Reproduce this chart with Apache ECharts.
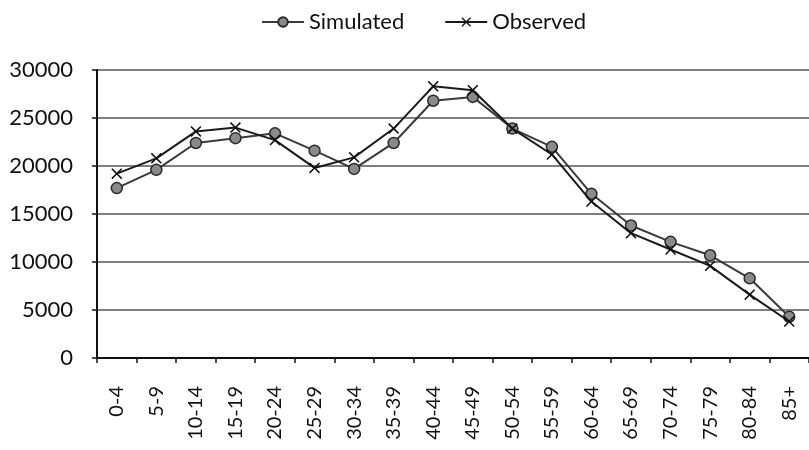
<!DOCTYPE html>
<html>
<head>
<meta charset="utf-8">
<script src="https://cdn.jsdelivr.net/npm/echarts@6/dist/echarts.min.js"></script>
<style>
  html, body { margin: 0; padding: 0; background: #fff; }
  #chart { width: 809px; height: 450px; }
</style>
</head>
<body>
<div id="chart"></div>
<script>
// Age groups along the x axis
const categories = ['0-4', '5-9', '10-14', '15-19', '20-24', '25-29', '30-34', '35-39', '40-44',
  '45-49', '50-54', '55-59', '60-64', '65-69', '70-74', '75-79', '80-84', '85+'];

// Population per age group
const simulated = [17700, 19600, 22400, 22900, 23400, 21600, 19700, 22400, 26800,
  27200, 23900, 22000, 17100, 13800, 12100, 10700, 8300, 4300];
const observed = [19200, 20800, 23600, 24000, 22700, 19800, 20900, 23900, 28300,
  27900, 23900, 21200, 16300, 13000, 11300, 9600, 6600, 3800];

// Value axis ticks
const yTicks = [0, 5000, 10000, 15000, 20000, 25000, 30000];

const FONT = 'Lato, "Open Sans", sans-serif';
const crossPath = 'path://M0,1 L1,0 L5,4 L9,0 L10,1 L6,5 L10,9 L9,10 L5,6 L1,10 L0,9 L4,5 Z';

const chart = echarts.init(document.getElementById('chart'), null, { renderer: 'canvas' });
chart.setOption({
  animation: false,
  backgroundColor: '#fff',
  legend: {
    top: 6,
    left: 256,
    itemGap: 40,
    itemWidth: 42,
    itemHeight: 12,
    textStyle: { fontFamily: FONT, fontSize: 22, color: '#111' },
    data: ['Simulated', 'Observed']
  },
  grid: { left: 97, right: 0, top: 70, height: 288 },
  xAxis: {
    type: 'category',
    data: categories,
    boundaryGap: true,
    axisLine: { lineStyle: { color: '#111', width: 2 } },
    axisTick: { show: true, length: 5, lineStyle: { color: '#111', width: 1.5 } },
    axisLabel: {
      rotate: 90, margin: 28, interval: 0,
      fontFamily: FONT, fontSize: 20, color: '#111'
    },
    splitLine: { show: false }
  },
  yAxis: {
    type: 'value',
    min: yTicks[0],
    max: yTicks[yTicks.length - 1],
    interval: 5000,
    axisLine: { show: true, lineStyle: { color: '#111', width: 2 } },
    axisTick: { show: true, length: 5, lineStyle: { color: '#111', width: 1.5 } },
    axisLabel: {
      margin: 24, fontFamily: FONT, fontSize: 22, color: '#111',
      formatter: (v) => String(v)
    },
    splitLine: { show: true, lineStyle: { color: '#7f7f7f', width: 2 } }
  },
  series: [
    {
      name: 'Simulated',
      type: 'line',
      data: simulated,
      symbol: 'circle',
      symbolSize: 11,
      lineStyle: { color: '#3a3a3a', width: 2 },
      itemStyle: { color: '#8a8a8a', borderColor: '#2a2a2a', borderWidth: 1.5 },
      z: 3
    },
    {
      name: 'Observed',
      type: 'line',
      data: observed,
      symbol: crossPath,
      symbolSize: 11,
      lineStyle: { color: '#1a1a1a', width: 2 },
      itemStyle: { color: '#111', borderColor: '#111', borderWidth: 0 },
      z: 4
    }
  ]
});
</script>
</body>
</html>
